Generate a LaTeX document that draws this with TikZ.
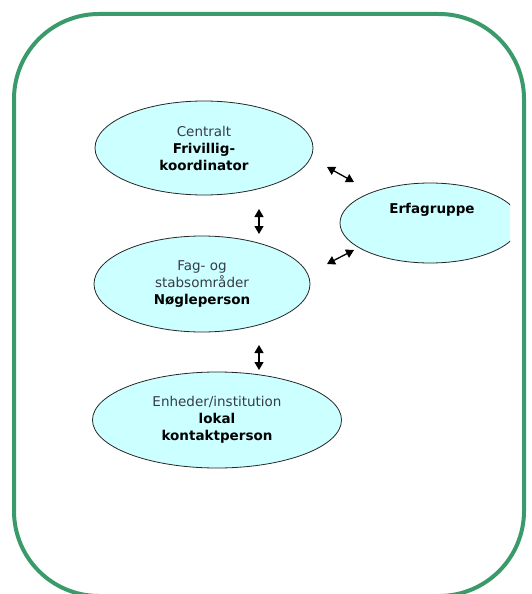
\documentclass[tikz,border=0pt]{standalone}
\usepackage{fontspec}
\setsansfont{DejaVu Sans}
\usetikzlibrary{shapes.geometric,arrows.meta}
\definecolor{rammegroen}{RGB}{58,154,106}
\definecolor{boblefyld}{RGB}{204,255,255}
\definecolor{graatekst}{RGB}{55,60,70}
\tikzset{
  boble/.style={ellipse, draw=black!85, line width=0.8pt, fill=boblefyld, inner sep=0pt,
    align=center, font=\sffamily\fontsize{13.5}{17}\selectfont},
  pil/.style={<->, line width=1.3pt}
}
\begin{document}
\begin{tikzpicture}[x=1pt, y=-1pt, >={Triangle[length=8pt,width=9pt]}]
\useasboundingbox (0,0) rectangle (531,594);
% ramme
\draw[rammegroen, line width=4pt, rounded corners=85pt] (14,14) rectangle (524,596);
% bobler
\node[boble, minimum width=218pt, minimum height=94pt] (central) at (204,148)
  {{\color{graatekst}Centralt}\\\textbf{Frivillig-}\\\textbf{koordinator}};
\node[boble, minimum width=216pt, minimum height=96pt] (fagstab) at (202,284)
  {{\color{graatekst}Fag- og}\\{\color{graatekst}stabsområder}\\\textbf{Nøgleperson}};
\node[boble, minimum width=249pt, minimum height=96pt] (enhed) at (217,420)
  {{\color{graatekst}Enheder/institution}\\\textbf{lokal}\\\textbf{kontaktperson}};
\begin{scope}
\clip (0,0) rectangle (510,594);
\node[boble, minimum width=180pt, minimum height=80pt] (erfa) at (430,223) {};
\end{scope}
\node[font=\sffamily\bfseries\fontsize{13.5}{17}\selectfont] (erfatekst) at (432,210) {Erfagruppe};
% pile
\coordinate (v1a) at (259,209); \coordinate (v1b) at (259,234);
\coordinate (v2a) at (259,345); \coordinate (v2b) at (259,370);
\coordinate (d1a) at (327,167); \coordinate (d1b) at (354,182);
\coordinate (d2a) at (327,264); \coordinate (d2b) at (354,250);
\draw[pil] (v1a) -- (v1b);
\draw[pil] (v2a) -- (v2b);
\draw[pil] (d1a) -- (d1b);
\draw[pil] (d2a) -- (d2b);
\end{tikzpicture}
\end{document}
